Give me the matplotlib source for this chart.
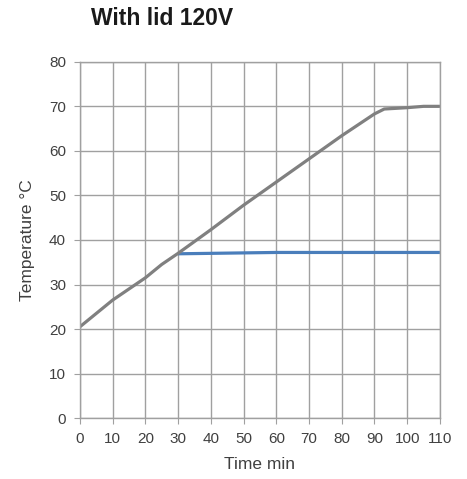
import matplotlib
matplotlib.use("Agg")
import matplotlib.pyplot as plt

# Readings
time_gray = [0, 5, 10, 15, 20, 25, 30, 40, 50, 60, 70, 80, 90, 93, 100, 105, 110]
temp_gray = [20.5, 23.5, 26.5, 29.0, 31.5, 34.5, 37.0, 42.3, 47.8, 53.0, 58.2, 63.4, 68.3, 69.4, 69.7, 70.0, 70.0]
time_blue = [30, 40, 50, 60, 70, 80, 90, 100, 110]
temp_blue = [36.9, 37.0, 37.1, 37.2, 37.2, 37.2, 37.2, 37.2, 37.2]

xticks = list(range(0, 111, 10))
yticks = list(range(0, 81, 10))

plt.rcParams['font.family'] = ['Liberation Sans', 'DejaVu Sans']

fig = plt.figure(figsize=(4.67, 4.79), dpi=100)
ax = fig.add_axes([0.171, 0.127, 0.771, 0.744])

ax.plot(time_blue, temp_blue, color="#4a7ebb", lw=2.3, solid_capstyle="butt")
ax.plot(time_gray, temp_gray, color="#808080", lw=2.3, solid_capstyle="butt")

ax.set_xlim(0, 110)
ax.set_ylim(0, 80)
ax.set_xticks(xticks)
ax.set_yticks(yticks)
ax.grid(True, color="#a0a0a0", lw=1.0)
ax.set_axisbelow(True)
for s in ax.spines.values():
    s.set_color("#a0a0a0")
    s.set_linewidth(1.0)
ax.tick_params(colors="#a0a0a0", labelcolor="#404040", labelsize=11, length=4)
ax.tick_params(axis="y", pad=6)
ax.tick_params(axis="x", pad=6)

ax.set_xlabel("Time min", fontsize=12.5, color="#404040", labelpad=8)
ax.set_ylabel("Temperature °C", fontsize=12.5, color="#404040", labelpad=10)
fig.text(0.346, 0.962, "With lid 120V", fontsize=16.5, fontweight="bold",
         ha="center", va="center", color="#1a1a1a")

fig.savefig("out.png", dpi=100)
